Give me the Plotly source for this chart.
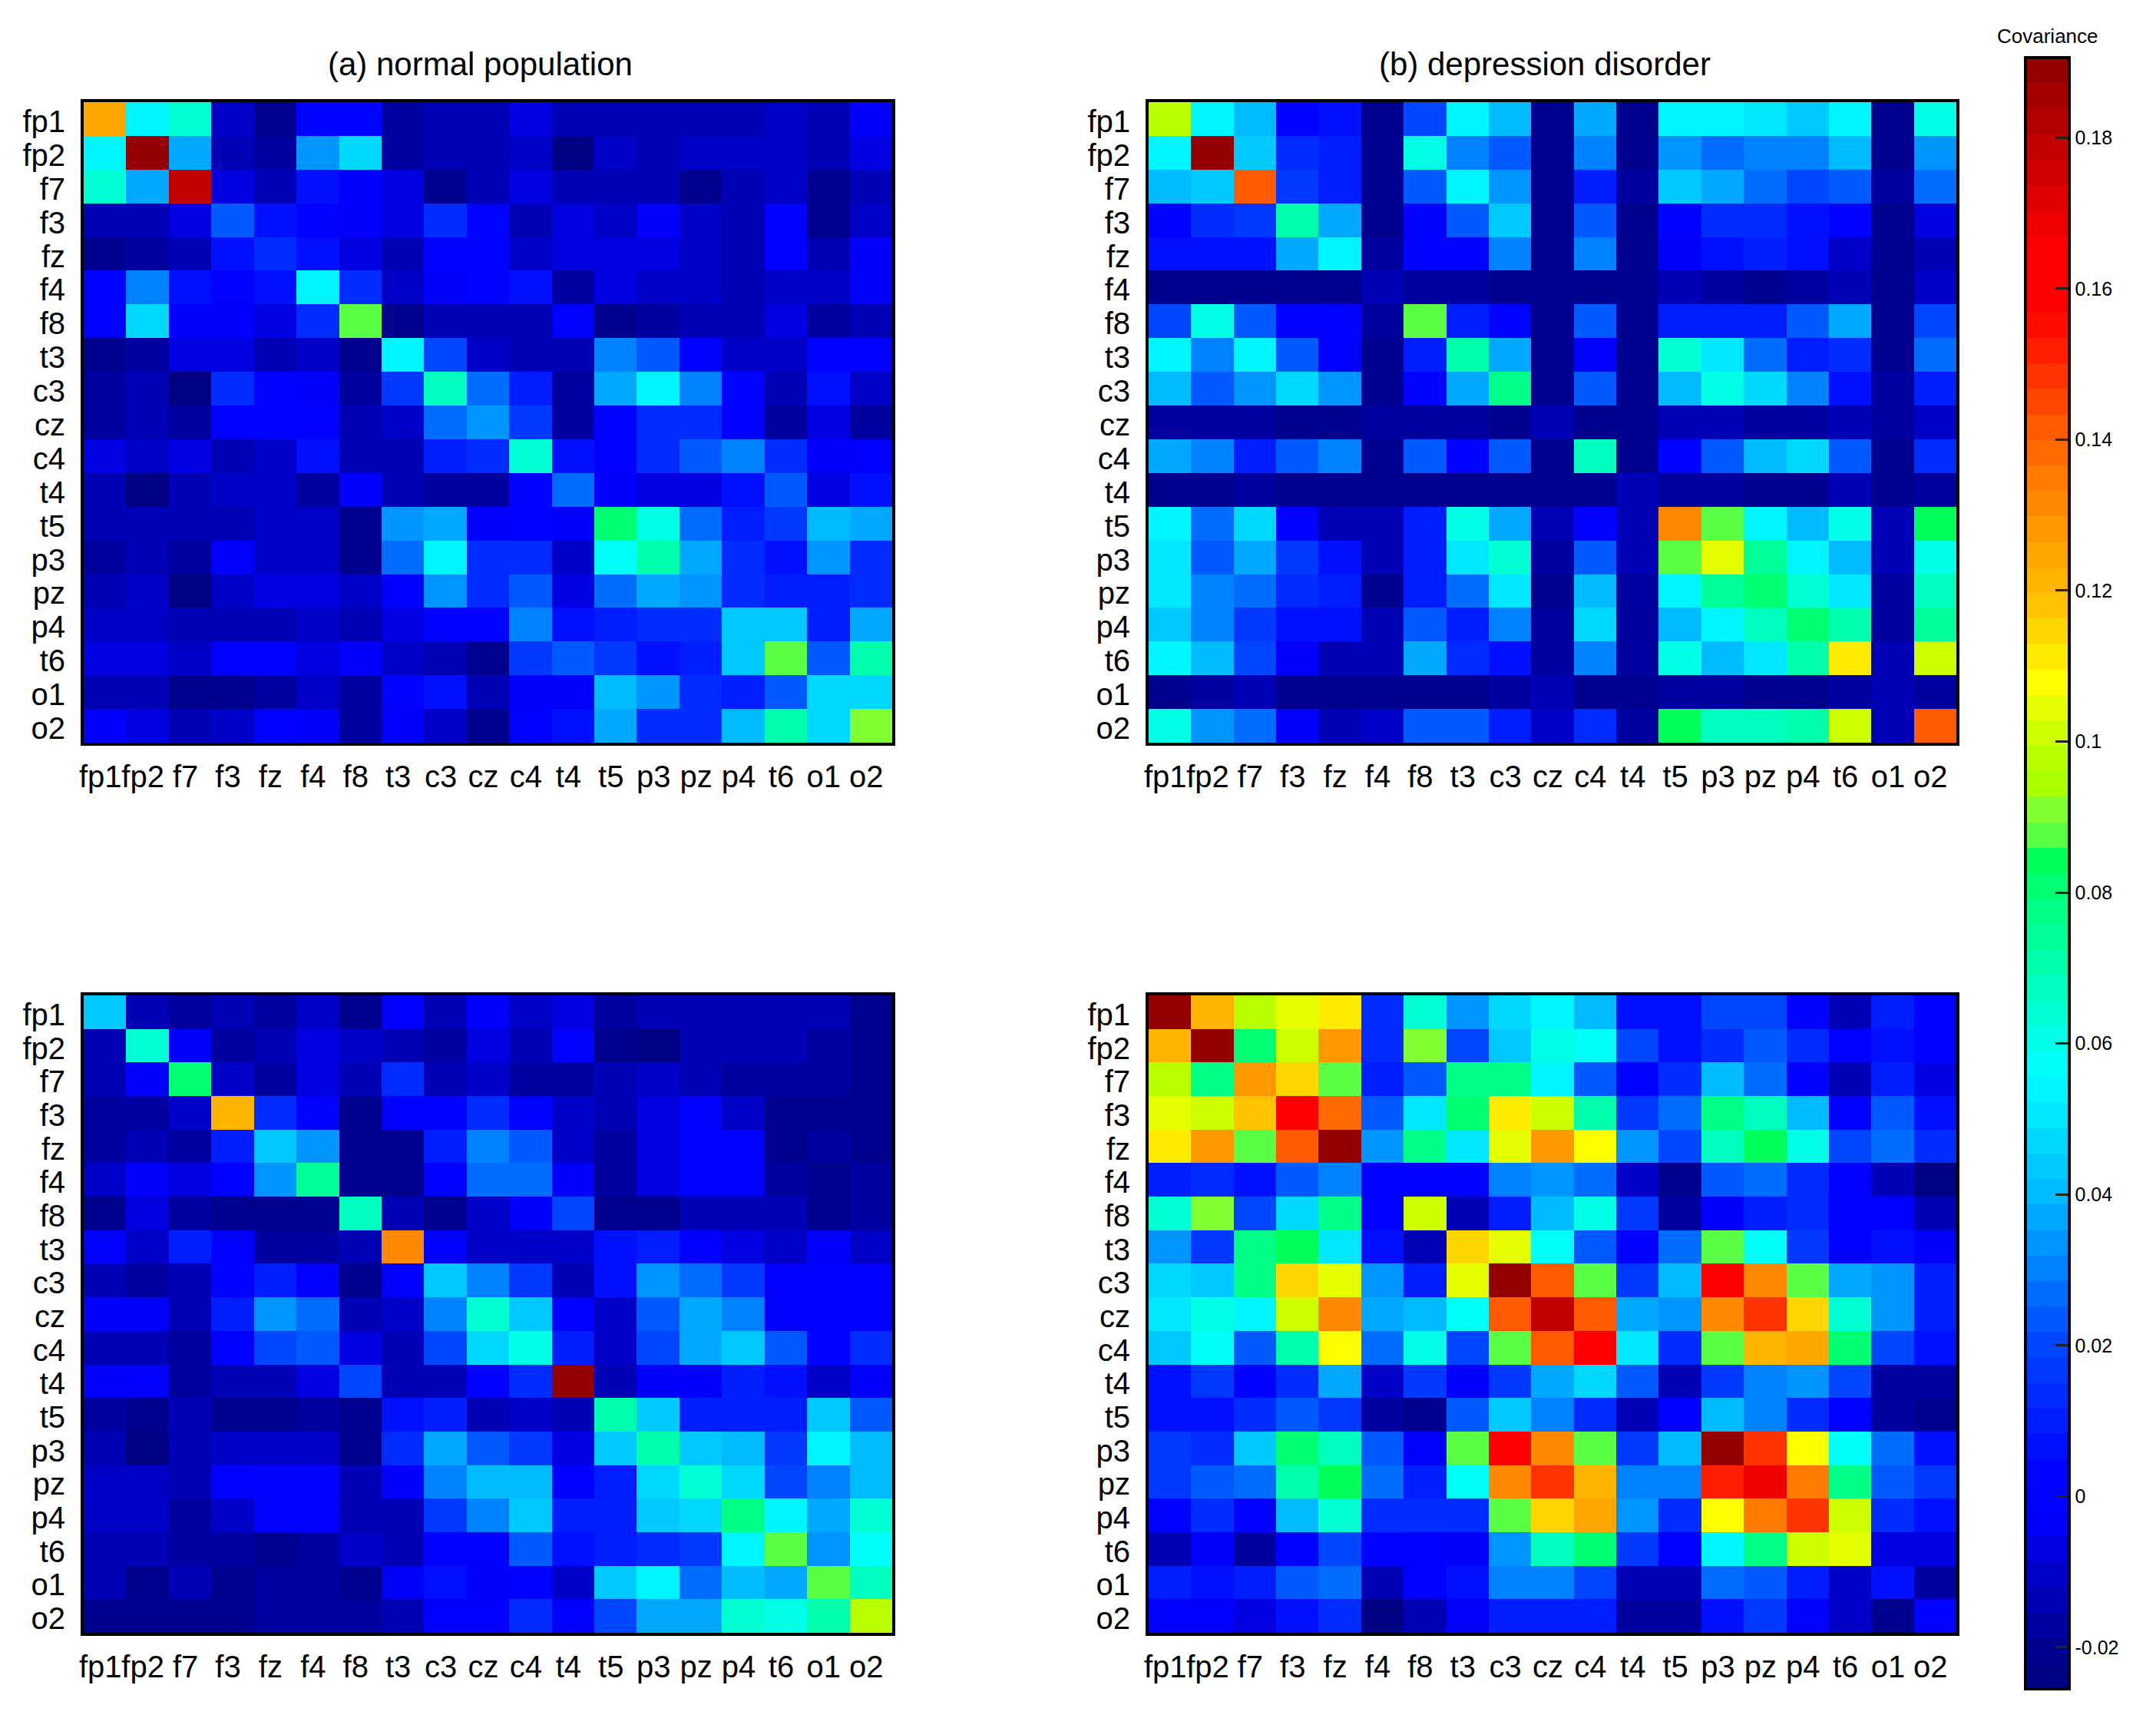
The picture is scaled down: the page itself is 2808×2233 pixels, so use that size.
import plotly.graph_objects as go
import numpy as np

channels = ["fp1","fp2","f7","f3","fz","f4","f8","t3","c3","cz","c4","t4","t5","p3","pz","p4","t6","o1","o2"]

# covariance values x 1000
normal = [
[125,55,63,-10,-20,2,2,-18,-14,-14,-7,-12,-12,-15,-12,-12,-9,-15,-5],
[55,190,36,-13,-17,32,46,-16,-13,-13,-10,-23,-9,-12,-10,-11,-10,-14,-8],
[63,36,178,-7,-14,8,-5,-8,-20,-14,-6,-13,-12,-15,-20,-12,-11,-20,-14],
[-12,-14,-8,25,7,2,-4,-8,14,2,-15,-7,-11,-3,-11,-14,0,-20,-10],
[-20,-18,-14,6,12,7,-7,-13,3,3,-9,-7,-8,-8,-10,-14,0,-14,-3],
[1,30,7,2,6,55,13,-11,-4,3,7,-17,-7,-11,-11,-12,-9,-10,-5],
[1,46,-3,-3,-7,13,88,-20,-14,-14,-14,1,-21,-16,-12,-12,-7,-17,-15],
[-19,-17,-8,-8,-14,-10,-20,53,20,-10,-13,-14,30,24,3,-9,-9,3,0],
[-17,-15,-23,12,3,-5,-16,18,66,27,9,-16,38,55,31,2,-14,5,-10],
[-16,-15,-16,0,2,1,-14,-10,28,33,16,-18,-1,15,15,0,-16,-8,-17],
[-8,-11,-8,-15,-10,6,-13,-13,9,15,64,6,1,15,22,31,14,-3,1],
[-12,-23,-13,-9,-9,-18,-3,-15,-17,-17,4,28,-5,-7,-6,6,23,-6,8],
[-13,-13,-13,-12,-11,-9,-21,32,38,-3,-1,-5,80,60,26,11,17,41,36],
[-16,-14,-18,-5,-11,-11,-20,26,55,14,14,-9,58,72,36,14,6,33,14],
[-12,-11,-23,-9,-8,-8,-11,0,32,14,22,-6,26,36,33,13,10,11,13],
[-9,-9,-12,-14,-14,-11,-12,-7,2,2,31,8,10,13,13,43,43,11,38],
[-7,-7,-9,0,0,-6,-4,-9,-14,-19,17,24,18,6,10,43,88,23,70],
[-15,-15,-22,-22,-17,-10,-18,2,5,-12,-2,-5,42,33,12,10,22,47,47],
[-5,-7,-15,-9,-1,-2,-16,-2,-10,-20,0,8,37,13,13,39,71,46,92],
]
depression = [
[97,55,42,4,8,-20,20,55,41,-21,38,-21,55,53,50,45,55,-20,60],
[55,190,44,12,9,-20,59,31,23,-21,31,-21,33,28,30,31,42,-20,35],
[42,45,142,17,9,-20,25,55,34,-20,11,-18,44,38,28,21,24,-17,28],
[3,13,18,72,38,-21,3,22,45,-21,23,-21,2,15,14,7,-1,-20,-6],
[5,8,7,38,54,-18,3,2,30,-21,31,-19,-4,6,11,6,-9,-20,-13],
[-19,-19,-19,-21,-20,-12,-18,-18,-20,-20,-20,-21,-15,-17,-21,-16,-15,-20,-10],
[20,59,22,0,3,-18,88,10,2,-19,24,-20,10,10,10,22,36,-20,21],
[55,30,55,22,1,-19,11,70,37,-20,1,-20,65,50,27,10,14,-19,27],
[42,22,35,47,32,-20,2,36,78,-21,23,-20,41,62,48,30,5,-18,9],
[-18,-18,-18,-20,-20,-16,-17,-18,-20,-12,-19,-19,-14,-15,-18,-16,-14,-18,-11],
[36,30,11,22,30,-20,25,2,22,-21,68,-20,2,22,41,46,24,-20,12],
[-20,-20,-17,-21,-19,-20,-20,-20,-20,-20,-20,-13,-16,-16,-20,-20,-15,-20,-18],
[55,27,47,4,-12,-14,10,62,38,-15,2,-15,132,88,55,39,60,-15,83],
[50,25,38,18,7,-15,10,50,63,-16,22,-15,88,104,73,54,42,-15,62],
[52,30,26,14,11,-19,10,26,50,-19,41,-18,55,74,82,64,50,-18,66],
[44,29,17,6,6,-15,22,11,31,-16,46,-18,41,55,68,80,72,-18,74],
[54,40,21,-3,-12,-12,36,14,5,-16,29,-17,60,42,50,70,110,-15,100],
[-20,-18,-14,-20,-20,-20,-20,-20,-17,-15,-20,-20,-16,-18,-20,-20,-17,-14,-16],
[61,33,27,-3,-13,-10,24,25,10,-11,13,-18,83,66,66,70,102,-15,140],
]
lower_left = [
[44,-12,-16,-13,-16,-10,-20,0,-13,-5,-11,-6,-18,-13,-13,-13,-15,-15,-20],
[-14,65,-5,-18,-13,-6,-10,-12,-17,-6,-12,3,-22,-24,-13,-13,-14,-18,-19],
[-15,-3,80,-10,-18,-7,-15,12,-14,-10,-17,-17,-14,-10,-13,-16,-18,-16,-20],
[-16,-18,-10,122,12,2,-20,-1,3,13,2,-11,-15,-7,-1,-10,-19,-19,-20],
[-16,-15,-18,11,45,33,-20,-19,11,31,22,-10,-18,-7,1,0,-20,-18,-19],
[-11,-5,-7,0,33,74,-21,-19,0,27,26,-5,-17,-6,1,0,-17,-19,-18],
[-21,-8,-16,-20,-20,-20,67,-13,-20,-10,-5,20,-21,-21,-14,-13,-12,-20,-17],
[-1,-10,10,0,-17,-18,-13,130,0,-9,-10,-11,5,11,-1,-7,-11,-3,-11],
[-13,-17,-14,2,9,0,-20,-1,45,30,18,-13,8,34,28,17,0,4,0],
[-5,-4,-13,11,32,27,-13,-10,31,63,45,0,-10,22,37,30,1,0,1],
[-12,-13,-18,0,20,25,-6,-13,19,46,60,10,-10,19,37,44,23,2,15],
[-4,1,-17,-12,-12,-6,21,-15,-14,0,12,190,-14,-5,-2,11,8,-11,-5],
[-18,-22,-14,-19,-19,-18,-22,5,9,-13,-10,-15,72,44,11,10,10,45,22],
[-15,-23,-12,-9,-9,-9,-22,12,36,24,17,-7,45,72,45,41,17,55,40],
[-9,-10,-12,0,2,2,-14,-3,31,40,40,0,11,46,65,47,20,30,41],
[-11,-11,-17,-11,-1,-1,-12,-13,18,31,44,11,11,43,48,76,55,38,63],
[-12,-13,-18,-16,-20,-18,-11,-15,0,0,25,8,10,15,18,55,88,33,58],
[-14,-20,-15,-20,-18,-18,-21,-4,6,-2,-1,-11,45,55,27,41,36,88,66],
[-20,-20,-20,-21,-17,-17,-18,-12,1,1,14,0,21,38,38,64,61,70,97],
]
lower_right = [
[190,122,97,105,112,14,63,35,48,53,42,7,6,20,20,3,-12,11,1],
[122,188,80,102,128,14,92,19,44,62,58,19,5,13,25,15,0,6,1],
[97,78,128,116,88,10,25,76,76,55,22,0,14,42,28,4,-15,9,-8],
[105,102,118,158,138,24,50,80,112,102,72,16,28,78,68,40,0,24,5],
[112,128,88,140,188,32,76,52,104,128,107,35,20,68,84,62,20,28,14],
[10,12,8,22,30,0,0,4,29,34,28,-9,-19,22,26,13,1,-12,-24],
[64,92,20,48,76,0,102,-14,10,40,62,16,-17,-2,9,14,3,0,-15],
[35,17,76,84,50,5,-15,114,106,58,22,0,27,88,57,17,0,6,-2],
[47,43,76,114,103,32,10,105,188,140,88,18,42,160,130,88,36,32,9],
[52,62,55,102,130,37,42,58,140,180,142,38,32,130,150,116,65,32,10],
[43,57,22,70,107,28,62,21,88,140,162,50,12,88,122,124,80,19,8],
[6,18,0,13,36,-9,18,-2,17,37,48,24,-13,17,29,35,20,-16,-18],
[5,5,14,24,18,-17,-19,25,45,31,13,-13,0,39,30,12,0,-17,-20],
[18,12,43,80,68,22,0,88,160,130,88,17,42,188,150,107,58,26,6],
[18,24,27,70,83,26,10,57,130,150,122,30,30,152,168,135,78,24,17],
[1,15,0,39,63,15,15,14,88,116,124,35,13,107,135,148,102,12,6],
[-15,-3,-18,1,20,3,1,-2,35,66,80,18,1,55,78,102,106,-8,-7],
[11,8,10,23,27,-12,0,5,30,31,19,-12,-14,26,22,11,-9,7,-16],
[1,1,-7,5,12,-25,-15,-5,9,11,9,-16,-18,6,16,4,-10,-19,4],
]
panels = [normal, depression, lower_left, lower_right]
titles = ["(a) normal population", "(b) depression disorder", "", ""]

cbar_ticks = [-0.02, 0, 0.02, 0.04, 0.06, 0.08, 0.1, 0.12, 0.14, 0.16, 0.18]
cbar_labels = ["-0.02", "0", "0.02", "0.04", "0.06", "0.08", "0.1", "0.12", "0.14", "0.16", "0.18"]

ZMIN, ZMAX, LEVELS = -0.0255, 0.1906, 64
anchors = [(-0.0255,(0,0,125)),(-0.02,(0,0,145)),(-0.01,(0,0,200)),(-0.003,(0,0,255)),(0.003,(0,0,255)),
           (0.02,(0,70,255)),(0.04,(0,185,255)),(0.056,(0,255,255)),(0.08,(0,255,120)),(0.0842,(0,255,90)),
           (0.0876,(90,255,70)),(0.0910,(130,255,50)),(0.0944,(170,255,0)),(0.0977,(185,255,0)),
           (0.1011,(205,255,0)),(0.1045,(230,255,0)),(0.1079,(255,255,0)),(0.1113,(255,235,0)),
           (0.118,(255,195,0)),(0.14,(255,100,0)),(0.157,(255,0,0)),(0.165,(255,0,0)),(0.1906,(140,0,0))]
av = [a[0] for a in anchors]
scale = []
for i in range(LEVELS):
    v = ZMIN + (i + 0.5) * (ZMAX - ZMIN) / LEVELS
    r, g, b = (int(round(np.interp(v, av, [a[1][k] for a in anchors]))) for k in range(3))
    c = f"rgb({r},{g},{b})"
    scale += [[i / LEVELS, c], [(i + 1) / LEVELS, c]]

W, H = 2808, 2233
boxes = [(109, 1162, 133, 967), (1496, 2548, 133, 967), (109, 1162, 1296, 2126), (1496, 2548, 1296, 2126)]
FONT = "Liberation Sans"

fig = go.Figure()
for i, (data, box) in enumerate(zip(panels, boxes)):
    n = "" if i == 0 else str(i + 1)
    x0, x1, y0, y1 = box
    fig.add_trace(go.Heatmap(z=np.array(data) / 1000, x=channels, y=channels, coloraxis="coloraxis",
                             xaxis="x" + n, yaxis="y" + n))
    axis = dict(showline=True, mirror=True, linecolor="black", linewidth=4, ticks="", showgrid=False,
                zeroline=False, type="category", tickmode="array", tickvals=channels, ticktext=channels,
                tickangle=0, tickfont=dict(family=FONT, size=40, color="black"))
    fig.layout["xaxis" + n] = dict(axis, domain=[x0 / W, x1 / W], anchor="y" + n,
                                   ticklabelstandoff=6, ticklabelshift=-6)
    fig.layout["yaxis" + n] = dict(axis, domain=[1 - y1 / H, 1 - y0 / H], anchor="x" + n, autorange="reversed",
                                   ticklabelstandoff=12, ticklabelshift=-3)
    if titles[i]:
        fig.add_annotation(text=titles[i], x=((x0 + x1) / 2 - 10) / W, y=1 - 84 / H, xref="paper",
                           yref="paper", xanchor="center", yanchor="middle", showarrow=False,
                           font=dict(family=FONT, size=42, color="black"))

fig.add_annotation(text="Covariance", x=2667 / W, y=1 - 47 / H, xref="paper", yref="paper", xanchor="center",
                   yanchor="middle", showarrow=False, font=dict(family=FONT, size=26, color="black"))
fig.update_layout(
    width=W, height=H, margin=dict(l=0, r=0, t=0, b=0, autoexpand=False), paper_bgcolor="white", plot_bgcolor="white",
    coloraxis=dict(cmin=ZMIN, cmax=ZMAX, colorscale=scale, colorbar=dict(
        x=2638 / W, xanchor="left", y=1 - 75 / H, yanchor="top", lenmode="pixels", len=2124,
        thicknessmode="pixels", thickness=57, xpad=0, ypad=0, outlinecolor="black", outlinewidth=4,
        ticks="inside", ticklen=20, tickwidth=3, tickcolor="#222", tickmode="array",
        tickvals=cbar_ticks, ticktext=cbar_labels, tickfont=dict(family=FONT, size=25, color="black"))),
)
fig.write_html("out.html", post_script="document.body.style.margin='0';", config={"displayModeBar": False})
